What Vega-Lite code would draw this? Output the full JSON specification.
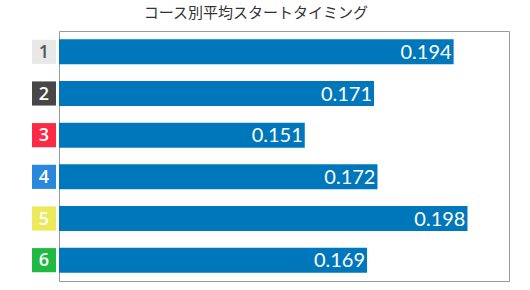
{
  "$schema": "https://vega.github.io/schema/vega-lite/v6.json",
  "padding": {"left": 32, "top": 5, "right": 22, "bottom": 7},
  "background": "white",
  "title": {"text": "コース別平均スタートタイミング", "font": "Noto Sans CJK JP", "fontSize": 15, "fontWeight": "normal", "color": "#333333", "anchor": "middle", "offset": 10, "dx": -15},
  "data": {"values": [
    {"course": "1", "st": 0.194},
    {"course": "2", "st": 0.171},
    {"course": "3", "st": 0.151},
    {"course": "4", "st": 0.172},
    {"course": "5", "st": 0.198},
    {"course": "6", "st": 0.169}
  ]},
  "spacing": 2,
  "hconcat": [
    {
      "width": 24,
      "height": 250,
      "view": {"stroke": null},
      "resolve": {"scale": {"color": "independent"}},
      "encoding": {
        "y": {"field": "course", "type": "nominal", "axis": null, "scale": {"paddingInner": 0.42, "paddingOuter": 0.21}}
      },
      "layer": [
        {
          "mark": {"type": "bar"},
          "encoding": {
            "x": {"datum": 0, "type": "quantitative", "scale": {"domain": [0, 1]}, "axis": null},
            "x2": {"datum": 1},
            "color": {"field": "course", "type": "nominal", "legend": null, "scale": {"domain": ["1","2","3","4","5","6"], "range": ["#e8e8e8", "#474747", "#fc2a45", "#2a88dc", "#ece95a", "#1fba44"]}}
          }
        },
        {
          "mark": {"type": "text", "font": "Open Sans", "fontSize": 18, "fontWeight": 600, "baseline": "middle", "align": "center", "dy": 1},
          "encoding": {
            "x": {"datum": 0.5, "type": "quantitative"},
            "text": {"field": "course"},
            "color": {"field": "course", "type": "nominal", "legend": null, "scale": {"domain": ["1","2","3","4","5","6"], "range": ["#555555", "#ffffff", "#ffffff", "#ffffff", "#ffffff", "#ffffff"]}}
          }
        }
      ]
    },
    {
      "width": 450,
      "height": 250,
      "view": {"stroke": "#999999", "strokeWidth": 1},
      "encoding": {
        "y": {"field": "course", "type": "nominal", "axis": null, "scale": {"paddingInner": 0.4, "paddingOuter": 0.2}}
      },
      "layer": [
        {
          "mark": {"type": "bar", "color": "#0077bb"},
          "encoding": {
            "x": {"field": "st", "type": "quantitative", "scale": {"domain": [0.08, 0.21], "zero": false, "nice": false}, "axis": null},
            "x2": {"datum": 0.08}
          }
        },
        {
          "mark": {"type": "text", "font": "Lato", "fontSize": 20, "color": "white", "align": "right", "baseline": "middle", "dx": -2, "dy": 1},
          "encoding": {
            "x": {"field": "st", "type": "quantitative"},
            "text": {"field": "st", "type": "quantitative", "format": ".3f"}
          }
        }
      ]
    }
  ]
}
